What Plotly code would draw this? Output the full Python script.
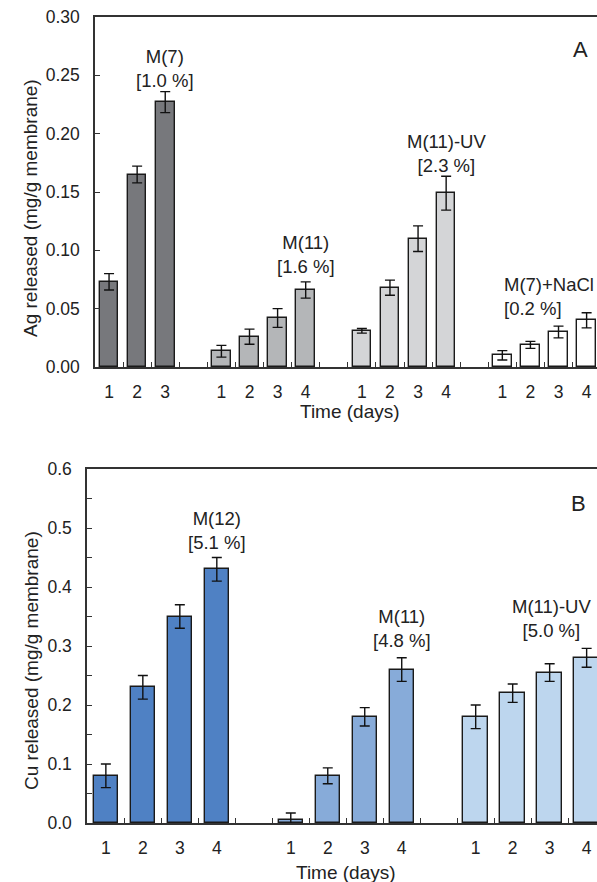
import plotly.graph_objects as go

# ---------------- Data ----------------
# Panel A: Ag released (mg/g membrane)
a_groups = ["M(7)", "M(11)", "M(11)-UV", "M(7)+NaCl"]
a_days = [["1", "2", "3"], ["1", "2", "3", "4"], ["1", "2", "3", "4"], ["1", "2", "3", "4"]]
a_values = [
    [0.073, 0.165, 0.227],
    [0.0135, 0.026, 0.042, 0.066],
    [0.031, 0.068, 0.110, 0.149],
    [0.010, 0.019, 0.030, 0.040],
]
a_errors = [
    [0.007, 0.0072, 0.009],
    [0.005, 0.0065, 0.008, 0.007],
    [0.002, 0.0065, 0.011, 0.0145],
    [0.004, 0.003, 0.005, 0.0065],
]
a_labels = ["M(7)<br>[1.0 %]", "M(11)<br>[1.6 %]", "M(11)-UV<br>[2.3 %]", "M(7)+NaCl<br>[0.2 %]"]
a_colors = ["#77787c", "#b4b6b8", "#d4d5d7", "#ffffff"]

# Panel B: Cu released (mg/g membrane)
b_groups = ["M(12)", "M(11)", "M(11)-UV"]
b_days = [["1", "2", "3", "4"], ["1", "2", "3", "4"], ["1", "2", "3", "4"]]
b_values = [
    [0.08, 0.23, 0.35, 0.43],
    [0.005, 0.08, 0.18, 0.26],
    [0.18, 0.22, 0.255, 0.28],
]
b_errors = [
    [0.02, 0.02, 0.02, 0.02],
    [0.012, 0.0135, 0.0155, 0.02],
    [0.02, 0.0155, 0.015, 0.016],
]
b_labels = ["M(12)<br>[5.1 %]", "M(11)<br>[4.8 %]", "M(11)-UV<br>[5.0 %]"]
b_colors = ["#4f81c4", "#87abd9", "#bdd6ee"]

FONT = "Liberation Sans, Arial, sans-serif"
W, H = 597, 882

fig = go.Figure()


def add_panel(groups, days, values, errors, colors, xa, ya):
    tickvals, ticktext = [], []
    start = 0
    starts = []
    for g, d, v, e, c in zip(groups, days, values, errors, colors):
        xs = [start + i for i in range(len(d))]
        starts.append(start)
        fig.add_trace(go.Bar(
            x=xs, y=v, name=g, width=0.66,
            marker=dict(color=c, line=dict(color="#1a1a1a", width=1.4)),
            error_y=dict(type="data", array=e, visible=True, color="#111111",
                         thickness=1.4, width=5),
            xaxis=xa, yaxis=ya, showlegend=False, hoverinfo="skip",
        ))
        tickvals += xs
        ticktext += d
        start += len(d) + 1  # bars of the group + one empty gap slot
    return tickvals, ticktext, starts


a_tv, a_tt, a_st = add_panel(a_groups, a_days, a_values, a_errors, a_colors, "x", "y")
b_tv, b_tt, b_st = add_panel(b_groups, b_days, b_values, b_errors, b_colors, "x2", "y2")
a_minor = [k + 0.5 for k in range(int(max(a_tv)))]
b_minor = [k + 0.5 for k in range(int(max(b_tv)))]

axis_line = dict(showline=True, linecolor="#333333", linewidth=1.5, showgrid=False,
                 zeroline=False, automargin=False)
tickfont = dict(family=FONT, size=17.5, color="#222222")

fig.update_layout(
    width=W, height=H,
    margin=dict(l=0, r=0, t=0, b=0),
    plot_bgcolor="white", paper_bgcolor="white",
    bargap=0,
    font=dict(family=FONT, color="#222222"),
    xaxis=dict(domain=[95 / W, 1], anchor="y", range=[-0.5, 17.37],
               tickmode="array", tickvals=a_tv, ticktext=a_tt,
               ticks="outside", ticklen=8, tickcolor="rgba(0,0,0,0)",
               minor=dict(tickmode="array", tickvals=a_minor, ticks="inside",
                          ticklen=5, tickwidth=1.3, tickcolor="#333333"),
               mirror=True, tickfont=tickfont, **axis_line),
    yaxis=dict(domain=[1 - 367 / H, 1 - 17 / H], anchor="x", range=[0, 0.30],
               dtick=0.05, tickformat=".2f", ticks="inside", ticklen=5,
               tickwidth=1.3, tickcolor="#333333", ticklabelstandoff=10,
               tickfont=tickfont, **axis_line),
    xaxis2=dict(domain=[87 / W, 1], anchor="y2", range=[-0.51, 13.28],
                tickmode="array", tickvals=b_tv, ticktext=b_tt,
                ticks="outside", ticklen=8, tickcolor="rgba(0,0,0,0)",
                minor=dict(tickmode="array", tickvals=b_minor, ticks="inside",
                           ticklen=5, tickwidth=1.3, tickcolor="#333333"),
                mirror=True, tickfont=tickfont, **axis_line),
    yaxis2=dict(domain=[1 - 823 / H, 1 - 469 / H], anchor="x2", range=[0, 0.6],
                dtick=0.1, tickformat=".1f", ticks="inside", ticklen=5,
                tickwidth=1.3, tickcolor="#333333", ticklabelstandoff=10,
                minor=dict(dtick=0.05, ticks="inside", ticklen=5, tickwidth=1.3,
                           tickcolor="#333333"),
                tickfont=tickfont, **axis_line),
)

ann_font = dict(family=FONT, size=18.5, color="#222222")
anns = []
# Panel A group labels (positioned relative to each group's bars)
a_pos = [(a_st[0] + 2, 0.2555, "center"), (a_st[1] + 3, 0.0965, "center"),
         (a_st[2] + 3, 0.183, "center"), (a_st[3] + 0.0, 0.060, "left")]
for lab, (x, y, anc) in zip(a_labels, a_pos):
    anns.append(dict(x=x, y=y, xref="x", yref="y", text=lab, showarrow=False,
                     xanchor=anc, yanchor="middle", align=anc, font=ann_font))
b_pos = [(b_st[0] + 3, 0.495), (b_st[1] + 3, 0.3297), (b_st[2] + 2.05, 0.3466)]
for lab, (x, y) in zip(b_labels, b_pos):
    anns.append(dict(x=x, y=y, xref="x2", yref="y2", text=lab, showarrow=False,
                     xanchor="center", yanchor="middle", font=ann_font))


def paper_text(px, py, text, size, angle=0):
    return dict(x=px / W, y=1 - py / H, xref="paper", yref="paper", text=text,
                textangle=angle, showarrow=False, xanchor="center", yanchor="middle",
                font=dict(family=FONT, size=size, color="#222222"))


# Panel letters
anns.append(paper_text(580, 50, "A", 22))
anns.append(paper_text(578, 503, "B", 22))
# Axis titles
anns.append(paper_text(30, 208, "Ag released (mg/g membrane)", 19, -90))
anns.append(paper_text(31, 661, "Cu released (mg/g membrane)", 19, -90))
anns.append(paper_text(350, 412, "Time (days)", 19))
anns.append(paper_text(346, 872, "Time (days)", 19))

fig.update_layout(annotations=anns)
fig.write_html(
    "out.html",
    config={"displayModeBar": False},
    post_script="document.body.style.margin='0';document.body.style.overflow='hidden';",
)
